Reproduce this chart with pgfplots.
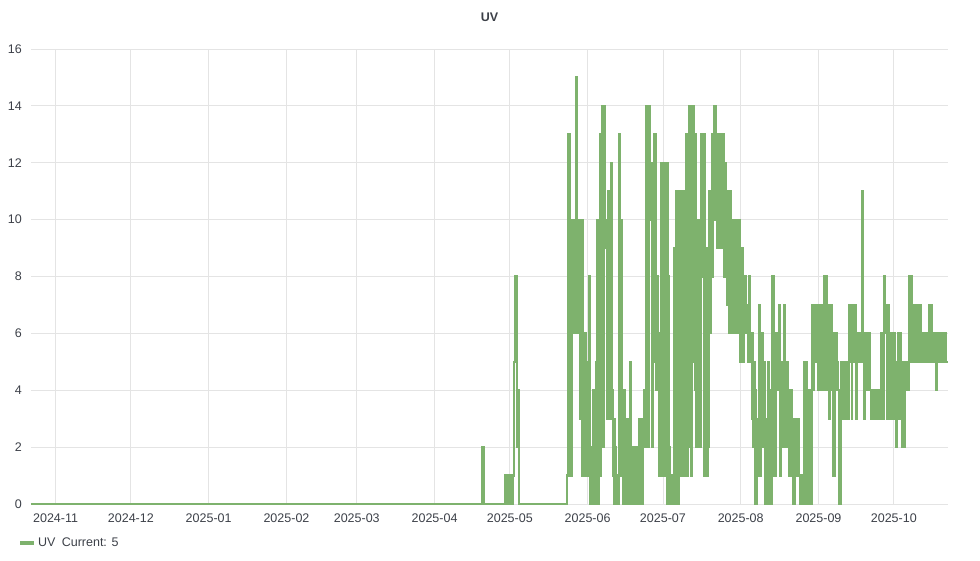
\documentclass[border=0pt]{standalone}
\usepackage{fontspec}
\setmainfont{Liberation Sans}
\usepackage{pgfplots}
\usepackage{pgfplotstable}
\pgfplotsset{compat=1.18}

\definecolor{uvgreen}{RGB}{126,178,109}
\definecolor{gridgray}{RGB}{228,228,228}
\definecolor{txt}{RGB}{60,64,72}

% x = days since 2024-11-01, y = UV index
\pgfplotstableread{
d v
-9.8 0
170.0 2
170.5 0
179.3 1
179.7 0
180.0 1
180.4 0
180.7 1
181.1 0
181.4 1
181.8 0
182.1 1
182.6 5
183.2 8
183.8 2
184.1 4
184.8 0
203.7 1
204.3 13
205.0 5
205.2 1
205.6 10
206.0 7
206.3 10
206.7 6
207.3 15
207.8 6
208.0 10
208.4 6
208.7 10
209.0 3
209.3 10
209.7 1
210.0 10
210.3 1
210.6 6
210.9 1
211.2 6
211.5 2
211.8 5
212.1 1
212.4 8
212.8 0
213.1 2
213.4 0
213.7 1
214.0 0
214.3 4
214.6 2
214.9 3
215.2 0
215.5 5
215.8 10
216.1 0
216.4 10
216.8 1
217.1 13
217.5 3
217.9 14
218.3 2
218.6 14
219.0 9
219.4 10
219.8 3
220.1 11
220.5 4
220.8 9
221.1 3
221.4 12
221.8 4
222.1 1
222.4 3
222.7 0
223.0 2
223.3 0
223.6 1
224.0 0
224.4 13
224.9 5
225.2 10
225.5 1
225.8 2
226.1 0
226.4 4
226.7 0
227.0 2
227.3 0
227.6 3
227.9 0
228.2 3
228.5 1
228.8 5
229.1 0
229.4 2
229.7 0
230.0 2
230.3 0
230.6 1
230.9 0
231.2 2
231.5 0
231.8 2
232.1 1
232.4 0
232.7 3
233.0 0
233.3 2
233.6 0
233.9 3
234.2 2
234.6 4
235.0 2
235.3 14
235.6 10
235.9 14
236.2 2
236.5 14
236.9 10
237.3 12
237.6 2
237.9 11
238.2 10
238.5 13
238.8 5
239.1 13
239.4 4
239.7 8
240.0 5
240.3 6
240.6 1
240.9 5
241.3 12
241.6 1
241.9 12
242.2 10
242.5 1
242.8 10
243.2 12
243.5 0
243.8 12
244.1 8
244.4 2
244.7 0
245.0 1
245.4 0
245.8 1
246.2 0
246.5 9
246.8 0
247.1 11
247.4 6
247.7 11
248.0 0
248.3 11
248.6 5
248.9 11
249.2 1
249.5 11
249.8 5
250.1 11
250.4 1
250.7 11
251.0 2
251.3 13
251.6 1
251.9 13
252.3 14
252.6 2
252.9 14
253.2 1
253.5 14
253.8 5
254.1 14
254.4 13
254.7 4
255.0 13
255.3 2
255.6 9
255.9 2
256.2 10
256.5 9
256.8 2
257.1 10
257.4 13
257.7 8
258.0 13
258.3 1
258.6 13
258.9 9
259.2 6
259.5 1
259.8 9
260.1 2
260.4 11
260.7 6
261.0 11
261.4 13
261.7 8
262.0 13
262.3 14
262.6 10
262.9 14
263.2 12
263.5 9
263.8 12
264.1 13
264.4 9
264.7 13
265.0 10
265.3 13
265.6 9
265.9 13
266.2 12
266.5 8
266.8 12
267.1 9
267.4 7
267.7 8
268.0 11
268.3 6
268.6 11
268.9 7
269.2 10
269.5 6
269.8 9
270.1 10
270.4 6
270.7 10
271.0 6
271.3 9
271.6 6
271.9 10
272.2 6
272.5 10
272.8 5
273.1 9
273.4 6
273.7 9
274.0 5
274.3 8
274.6 6
274.9 8
275.2 6
275.5 7
275.8 5
276.1 6
276.5 8
276.8 5
277.1 6
277.4 3
277.7 6
278.0 2
278.3 5
278.6 0
278.9 4
279.2 0
279.5 3
279.8 1
280.1 3
280.5 7
280.8 1
281.1 6
281.4 3
281.7 6
282.0 2
282.3 5
282.6 0
282.9 3
283.2 0
283.5 3
283.8 0
284.1 5
284.4 0
284.7 4
285.0 0
285.4 8
285.7 3
286.0 8
286.3 1
286.6 6
286.9 1
287.2 5
287.5 4
287.8 6
288.2 7
288.5 4
288.8 1
289.1 5
289.4 2
289.7 5
290.2 7
290.5 2
290.8 5
291.1 2
291.4 5
291.7 2
292.0 4
292.3 1
292.6 4
292.9 3
293.2 4
293.5 1
293.8 0
294.1 3
294.4 0
294.7 3
295.0 1
295.3 3
295.6 1
295.9 3
296.2 1
296.5 0
296.8 1
297.1 0
297.4 1
297.7 0
298.0 1
298.4 5
298.7 0
299.0 5
299.3 0
299.6 4
299.9 0
300.2 4
300.5 0
300.8 4
301.1 0
301.5 7
301.8 4
302.1 7
302.4 5
302.7 6
303.0 5
303.3 6
303.6 7
303.9 4
304.2 5
304.5 7
304.8 4
305.1 7
305.4 4
305.7 5
306.0 4
306.4 8
306.7 5
307.0 8
307.3 7
307.6 4
307.9 7
308.2 3
308.5 7
308.8 4
309.1 7
309.4 4
309.7 1
310.0 6
310.3 1
310.6 6
310.9 4
311.2 6
311.5 5
311.8 4
312.1 0
312.4 4
312.7 0
313.0 5
313.3 3
313.6 5
313.9 4
314.2 5
314.5 3
314.8 5
315.1 3
315.4 5
315.7 3
316.0 5
316.3 7
316.6 5
316.9 7
317.2 3
317.5 7
317.8 5
318.1 7
318.4 5
318.7 7
319.0 3
319.3 6
319.6 5
319.9 6
320.2 5
320.5 6
320.8 5
321.2 11
321.6 5
321.9 6
322.2 3
322.5 6
322.8 5
323.1 6
323.4 4
323.7 6
324.0 5
324.3 6
324.6 4
324.9 3
325.2 4
325.5 3
325.8 4
326.1 3
326.4 4
326.7 3
327.0 4
327.3 3
327.6 4
327.9 3
328.2 4
328.5 3
328.9 6
329.2 3
329.5 6
329.8 3
330.2 8
330.6 6
331.0 7
331.3 3
331.6 7
331.9 3
332.2 6
332.5 3
332.8 6
333.1 3
333.4 6
333.7 3
334.0 6
334.3 4
334.6 5
334.9 2
335.2 5
335.5 3
335.8 6
336.1 3
336.4 6
336.7 3
337.0 5
337.3 4
337.5 2
337.8 5
338.1 2
338.4 5
338.7 4
339.0 5
339.3 4
339.6 5
339.9 4
340.2 8
340.5 5
340.8 8
341.1 5
341.4 7
341.7 5
342.0 7
342.3 5
342.6 6
342.9 5
343.3 7
343.6 5
343.9 7
344.2 5
344.5 7
344.8 5
345.2 6
345.5 5
345.8 6
346.1 5
346.4 6
346.7 5
347.0 6
347.3 5
347.6 6
347.9 5
348.2 7
348.5 5
348.8 7
349.1 6
349.4 5
349.7 6
350.0 5
350.3 6
350.6 5
350.8 4
351.2 5
351.5 6
351.8 5
352.1 6
352.4 5
352.7 6
353.0 5
353.3 6
353.6 5
353.9 6
354.2 5
354.5 6
354.8 5
355.5 5
}\uvdata

\begin{document}
\begin{tikzpicture}
\begin{axis}[
  scale only axis,
  width=917pt, height=455pt,
  xmin=-9.8, xmax=355.6,
  ymin=0, ymax=16,
  clip=false,
  axis line style={draw=none},
  tick style={draw=none},
  grid=major,
  major grid style={draw=gridgray, line width=0.8pt},
  ytick={0,2,...,16},
  xtick={0,30,61,92,120,151,181,212,242,273,304,334},
  xticklabels={2024-11,2024-12,2025-01,2025-02,2025-03,2025-04,2025-05,2025-06,2025-07,2025-08,2025-09,2025-10},
  /pgf/number format/assume math mode=true,
  tick label style={font=\fontsize{12.5}{14}\selectfont, text=txt},
  yticklabel style={anchor=east, inner sep=0pt, xshift=-9pt},
  xticklabel style={anchor=north, inner sep=0pt, yshift=-10pt},
  title={UV},
  title style={font=\fontsize{12.5}{14}\selectfont\bfseries, text=txt, at={(0.5,1)}, anchor=center, yshift=26pt},
  legend style={at={(0,0)}, anchor=west, xshift=-13pt, yshift=-39pt,
    draw=none, fill=none, inner sep=0pt, font=\fontsize{12.5}{14}\selectfont, text=txt},
  legend image code/.code={\draw[uvgreen, line width=4pt] (0pt,0pt) -- (14pt,0pt);},
]
\addplot[const plot, uvgreen, line width=2.2pt, line join=miter] table[x=d, y=v] {\uvdata};
\addlegendentry{UV\enspace Current: 5}
\end{axis}
\pgfresetboundingbox
\path[use as bounding box] (current axis.south west) ++(-31pt,-56pt) rectangle ++(980pt,560pt);
\end{tikzpicture}
\end{document}
